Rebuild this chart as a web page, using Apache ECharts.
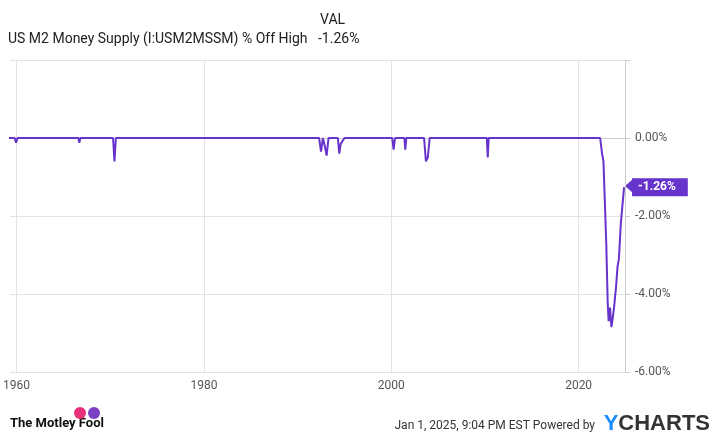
<!DOCTYPE html>
<html>
<head>
<meta charset="utf-8">
<script src="https://cdn.jsdelivr.net/npm/echarts@6/dist/echarts.min.js"></script>
<style>html,body{margin:0;padding:0;background:#fff}#c{width:720px;height:441px}</style>
</head>
<body>
<div id="c"></div>
<script>
// dates (decimal years) and % off high values
const years = [1959.1, 1959.8, 1959.95, 1960.1, 1966.6, 1966.7, 1966.8, 1970.3, 1970.45, 1970.6,
  1989.9, 1990.0, 1990.1, 1991.2, 1991.3, 1991.4, 1992.3, 1992.5, 1992.7, 1992.9, 1993.1, 1993.3, 1993.5,
  1994.3, 1994.45, 1994.6, 1994.8, 1995.0, 1995.3, 2000.1, 2000.25, 2000.4, 2001.4, 2001.5, 2001.6, 2002.7, 2002.85, 2003.0,
  2003.5, 2003.7, 2003.9, 2004.1, 2004.3, 2010.2, 2010.3, 2010.4];
const values = [0, 0, -0.12, 0, 0, -0.12, 0, 0, -0.6, 0,
  0, -0.05, 0, 0, -0.04, 0, 0, -0.35, 0, -0.2, -0.45, 0, 0,
  0, -0.4, -0.15, -0.2, 0, 0, 0, -0.3, 0, 0, -0.3, 0, 0, -0.05, 0,
  0, -0.6, -0.5, 0, 0, 0, -0.5, 0];
// tail section: 2020s decline and recovery
const tailYears = [2022.3, 2022.5, 2022.65, 2022.95, 2023.1, 2023.2, 2023.35, 2023.5, 2023.65, 2023.8, 2024.0, 2024.15, 2024.3, 2024.5, 2024.85];
const tailValues = [0, -0.4, -0.6, -2.7, -4.2, -4.7, -4.35, -4.85, -4.6, -4.3, -3.8, -3.3, -3.1, -2.2, -1.26];
const xTicks = [1960, 1980, 2000, 2020];

const pts = years.map((y, i) => [y, values[i]]).concat(tailYears.map((y, i) => [y, tailValues[i]]));

const chart = echarts.init(document.getElementById('c'));
chart.setOption({
  animation: false,
  textStyle: { fontFamily: 'Roboto' },
  grid: { left: 10, right: 95, top: 60, bottom: 69 },
  graphic: [
    { type: 'text', left: 8, top: 32, style: { text: 'US M2 Money Supply (I:USM2MSSM) % Off High', fontSize: 14, fill: '#222', fontFamily: 'Roboto' } },
    { type: 'text', left: 320, top: 13, style: { text: 'VAL', fontSize: 14, fill: '#222', fontFamily: 'Roboto' } },
    { type: 'text', left: 318, top: 32, style: { text: '-1.26%', fontSize: 14, fill: '#222', fontFamily: 'Roboto' } },
    { type: 'text', left: 10, top: 417, style: { text: 'The Motley Fool', fontSize: 13, fontWeight: 'bold', fill: '#111', fontFamily: 'Roboto' } },
    { type: 'circle', shape: { cx: 80, cy: 413, r: 6 }, style: { fill: '#e8327a' } },
    { type: 'circle', shape: { cx: 94, cy: 413, r: 6 }, style: { fill: '#7a3fc2' } },
    { type: 'text', right: 125, top: 420, style: { text: 'Jan 1, 2025, 9:04 PM EST Powered by', fontSize: 12, fill: '#333', fontFamily: 'Roboto' } },
    { type: 'text', right: 10, top: 413, style: { rich: { y: { fill: '#1a8cff', fontSize: 22, fontWeight: 'bold' }, c: { fill: '#333', fontSize: 22, fontWeight: 'bold' } }, text: '{y|Y}{c|CHARTS}', fontFamily: 'Roboto' } },
    // arrow tip of the value badge
    { type: 'polygon', shape: { points: [[625, 186], [633, 179], [633, 193]] }, style: { fill: '#6633cc' } }
  ],
  xAxis: {
    type: 'value',
    min: 1959.3, max: 2024.95,
    splitLine: { show: true, lineStyle: { color: '#e3e3e3' } },
    axisLine: { lineStyle: { color: '#ccc' } },
    axisTick: { show: false, customValues: xTicks },
    axisLabel: { color: '#555', fontSize: 12, customValues: xTicks, formatter: v => String(v) }
  },
  yAxis: {
    type: 'value', position: 'right',
    min: -6, max: 2, interval: 2,
    axisLine: { show: true, lineStyle: { color: '#ccc' } },
    splitLine: { lineStyle: { color: '#e3e3e3' } },
    axisLabel: { color: '#555', fontSize: 12, margin: 10, formatter: v => v > 0 ? '' : v.toFixed(2) + '%' }
  },
  series: [{
    type: 'line', data: pts, symbol: 'none',
    lineStyle: { color: '#6633cc', width: 2 },
    endLabel: {
      show: true, formatter: '-1.26%', color: '#fff', fontWeight: 'bold', fontSize: 12,
      backgroundColor: '#6633cc', padding: [3, 12, 3, 6], distance: 8
    }
  }]
});
</script>
</body>
</html>
